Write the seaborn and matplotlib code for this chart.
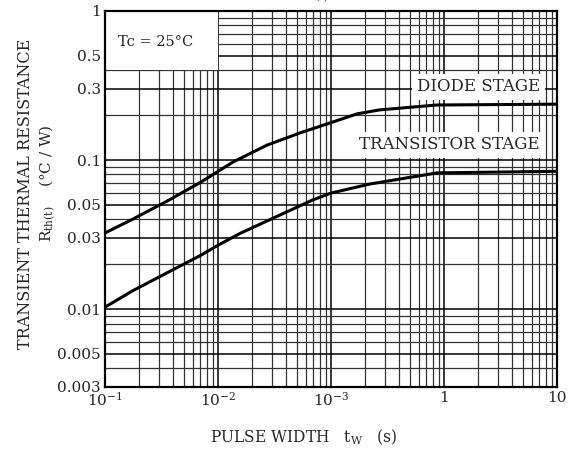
import numpy as np
import pandas as pd
import seaborn as sns
import matplotlib
matplotlib.use("Agg")
import matplotlib.pyplot as plt
from matplotlib.patches import Rectangle
from matplotlib.ticker import LogLocator, NullFormatter

# curves (pulse width s, Rth(t) °C/W)
diode_x = [0.001, 0.00177, 0.00354, 0.00693, 0.0136, 0.0272, 0.0532, 0.104, 0.17, 0.27, 0.87, 10]
diode_y = [0.0324, 0.0402, 0.053, 0.0705, 0.097, 0.126, 0.152, 0.180, 0.204, 0.217, 0.234, 0.237]
trans_x = [0.001, 0.00177, 0.00354, 0.00693, 0.01, 0.0157, 0.0288, 0.069, 0.1, 0.22, 0.87, 10]
trans_y = [0.0103, 0.0133, 0.0175, 0.0228, 0.0268, 0.0322, 0.0398, 0.054, 0.06, 0.069, 0.082, 0.084]

x_ticks = [1e-3, 1e-2, 1e-1, 1, 10]
x_labels = [r"$10^{-1}$", r"$10^{-2}$", r"$10^{-3}$", "1", "10"]
y_ticks = [1, 0.5, 0.3, 0.1, 0.05, 0.03, 0.01, 0.005, 0.003]
y_labels = ["1", "0.5", "0.3", "0.1", "0.05", "0.03", "0.01", "0.005", "0.003"]

df = pd.concat([
    pd.DataFrame({"tw": diode_x, "rth": diode_y, "stage": "DIODE STAGE"}),
    pd.DataFrame({"tw": trans_x, "rth": trans_y, "stage": "TRANSISTOR STAGE"}),
])

sns.set_style("white")
plt.rcParams["font.family"] = ["DejaVu Serif"]
plt.rcParams["mathtext.fontset"] = "dejavuserif"
plt.rcParams["font.size"] = 10

fig = plt.figure(figsize=(5.7, 4.54), dpi=100)
ax = fig.add_axes([0.1842, 0.1476, 0.7930, 0.8282])

sns.lineplot(data=df, x="tw", y="rth", units="stage", estimator=None, sort=False,
             color="black", lw=2.2, ax=ax, zorder=4,
             solid_joinstyle="round", solid_capstyle="butt")

ax.set_xscale("log")
ax.set_yscale("log")
ax.set_xlim(1e-3, 10)
ax.set_ylim(0.003, 1)

# grid
ax.xaxis.set_minor_locator(LogLocator(base=10, subs=np.arange(2, 10)))
ax.yaxis.set_minor_locator(LogLocator(base=10, subs=np.arange(2, 10)))
ax.xaxis.set_minor_formatter(NullFormatter())
ax.yaxis.set_minor_formatter(NullFormatter())
ax.grid(which="major", color="black", lw=1.1, zorder=0.5)
ax.grid(which="minor", color="#333333", lw=0.9, zorder=0.5)
ax.set_axisbelow(True)

ax.set_xticks(x_ticks)
ax.set_xticklabels(x_labels, fontsize=11)
ax.set_yticks(y_ticks)
ax.set_yticklabels(y_labels, fontsize=11)
ax.tick_params(which="both", length=0, pad=3)
for s in ax.spines.values():
    s.set_color("black")
    s.set_linewidth(1.6)
ax.set_xlabel("")
ax.set_ylabel("")

# Tc box in the upper-left corner
ax.add_patch(Rectangle((1e-3, 0.4), 1e-2 - 1e-3, 1 - 0.4, facecolor="white",
                       edgecolor="none", zorder=1))
ax.text(0.111, 0.918, "Tc = 25°C", transform=ax.transAxes, ha="center", va="center",
        fontsize=10.5, zorder=5)

box = dict(facecolor="white", edgecolor="none", pad=3.5)
ax.text(0.962, 0.798, "DIODE STAGE", transform=ax.transAxes, ha="right", va="center",
        fontsize=12, bbox=box, zorder=5)
ax.text(0.962, 0.644, "TRANSISTOR STAGE", transform=ax.transAxes, ha="right", va="center",
        fontsize=12, bbox=box, zorder=5)

# axis titles
fig.text(0.044, 0.573, "TRANSIENT THERMAL RESISTANCE", rotation=90, ha="center",
         va="center", fontsize=11.5)
fig.text(0.083, 0.597, r"$\mathrm{R_{th(t)}}$    (°C / W)", rotation=90, ha="center",
         va="center", fontsize=11)
fig.text(0.532, 0.037, r"PULSE WIDTH   $\mathrm{t_W}$   (s)", ha="center", va="center",
         fontsize=11.2)
fig.text(0.59, 1.012, r"$\mathrm{R_{th\,(t)}}$  —  $\mathrm{t_W}$", ha="center",
         va="center", fontsize=10.5)

fig.savefig("out.png", dpi=100)
